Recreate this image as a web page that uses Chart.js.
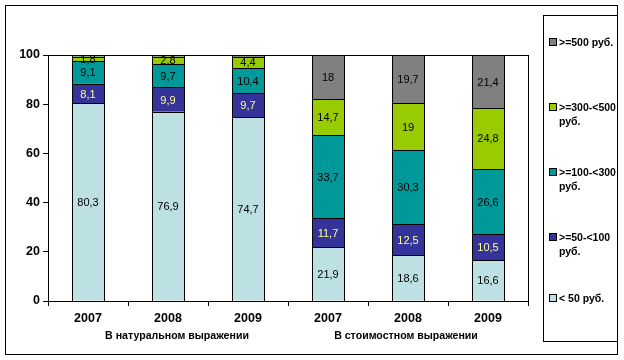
<!DOCTYPE html>
<html>
<head>
<meta charset="utf-8">
<script src="https://cdn.jsdelivr.net/npm/chart.js@4"></script>
<style>
    html, body { margin: 0; padding: 0; background: #fff; }
    #wrap { width: 624px; height: 360px; position: relative; }
</style>
</head>
<body>
<div id="wrap"><canvas id="chart" width="624" height="360"></canvas></div>
<script>
// Categories and groups
const years = ['2007', '2008', '2009', '2007', '2008', '2009'];
const groupNames = ['В натуральном выражении', 'В стоимостном выражении'];

// Series values (%), bottom to top
const below50 = [80.3, 76.9, 74.7, 21.9, 18.6, 16.6];
const from50to100 = [8.1, 9.9, 9.7, 11.7, 12.5, 10.5];
const from100to300 = [9.1, 9.7, 10.4, 33.7, 30.3, 26.6];
const from300to500 = [1.8, 2.8, 4.4, 14.7, 19, 24.8];
const over500 = [0.7, 0.7, 0.8, 18, 19.7, 21.4];

// Which values get a label on the bar (gray slivers in first group are unlabeled)
const over500Shown = [false, false, false, true, true, true];

const yTicks = [0, 20, 40, 60, 80, 100];

const seriesNames = ['< 50 руб.', '>=50-<100 руб.', '>=100-<300 руб.', '>=300-<500 руб.', '>=500 руб.'];
const seriesColors = ['#BDE0E3', '#333399', '#009999', '#99CC00', '#808080'];
const labelColors = ['#000000', '#FFFF99', '#000000', '#000000', '#000000'];
const legendLines = [
    ['>=500 руб.'],
    ['>=300-<500', 'руб.'],
    ['>=100-<300', 'руб.'],
    ['>=50-<100', 'руб.'],
    ['< 50 руб.']
];

const allSeries = [below50, from50to100, from100to300, from300to500, over500];

const fmt = v => String(v).replace('.', ',');

// Labels on segments, group labels, borders and the boxed legend
const decorations = {
    id: 'decorations',
    afterDatasetsDraw(chart) {
        const ctx = chart.ctx;
        const area = chart.chartArea;
        ctx.save();

        // crisp black outlines around each segment
        ctx.strokeStyle = '#000';
        ctx.lineWidth = 1;
        chart.data.datasets.forEach((ds, di) => {
            chart.getDatasetMeta(di).data.forEach(bar => {
                const x0 = Math.round(bar.x - bar.width / 2) + 0.5;
                const x1 = Math.round(bar.x + bar.width / 2) + 0.5;
                const y0 = Math.round(bar.y) + 0.5;
                const y1 = Math.round(bar.base) + 0.5;
                ctx.strokeRect(x0, y0, x1 - x0, y1 - y0);
            });
        });

        // segment labels
        ctx.font = '11px "Liberation Sans", Arial, sans-serif';
        ctx.textAlign = 'center';
        ctx.textBaseline = 'middle';
        chart.data.datasets.forEach((ds, di) => {
            const meta = chart.getDatasetMeta(di);
            meta.data.forEach((bar, i) => {
                if (di === 4 && !over500Shown[i]) return;
                const mid = (bar.y + bar.base) / 2;
                ctx.fillStyle = labelColors[di];
                ctx.fillText(fmt(ds.data[i]), bar.x, mid + 1);
            });
        });

        // plot area box
        ctx.strokeStyle = '#000';
        ctx.strokeRect(Math.round(area.left) + 0.5, Math.round(area.top) + 0.5,
            Math.round(area.right - area.left), Math.round(area.bottom - area.top));

        // group labels under the years
        const xs = chart.scales.x;
        ctx.fillStyle = '#000';
        ctx.font = 'bold 10.6px "Liberation Sans", Arial, sans-serif';
        ctx.fillText(groupNames[0], (xs.getPixelForValue(0) + xs.getPixelForValue(2)) / 2 + 9, 336);
        ctx.fillText(groupNames[1], (xs.getPixelForValue(3) + xs.getPixelForValue(5)) / 2 - 2, 336);

        // outer border
        ctx.strokeRect(5.5, 5.5, 612, 349);

        // legend box
        ctx.fillStyle = '#fff';
        ctx.fillRect(543.5, 15.5, 74, 326);
        ctx.strokeRect(543.5, 15.5, 74, 326);

        const rowY = [42, 107, 172, 237, 298];
        ctx.textAlign = 'left';
        ctx.font = 'bold 10.5px "Liberation Sans", Arial, sans-serif';
        legendLines.forEach((lines, k) => {
            const si = 4 - k;
            const y = rowY[k];
            ctx.fillStyle = seriesColors[si];
            ctx.fillRect(550, y - 3, 6, 6);
            ctx.strokeStyle = '#000';
            ctx.strokeRect(549.5, y - 3.5, 7, 7);
            ctx.fillStyle = '#000';
            ctx.fillText(lines[0], 559, y + 1);
            if (lines[1]) ctx.fillText(lines[1], 559, y + 15);
        });

        ctx.restore();
    }
};

new Chart(document.getElementById('chart'), {
    type: 'bar',
    data: {
        labels: years,
        datasets: allSeries.map((values, i) => ({
            label: seriesNames[i],
            data: values,
            backgroundColor: seriesColors[i],
            borderWidth: 0,
            barPercentage: 0.4,
            categoryPercentage: 1.0
        }))
    },
    options: {
        responsive: false,
        animation: false,
        layout: { padding: { left: 0, top: 55, right: 96, bottom: 8 } },
        plugins: {
            legend: { display: false },
            tooltip: { enabled: false }
        },
        scales: {
            x: {
                stacked: true,
                offset: true,
                afterFit: s => { s.height = 51; },
                grid: {
                    offset: true,
                    drawOnChartArea: false,
                    drawTicks: true,
                    tickLength: 5,
                    color: '#000'
                },
                border: { color: '#000', width: 1 },
                ticks: {
                    color: '#000',
                    padding: 5,
                    font: { family: '"Liberation Sans", Arial, sans-serif', size: 12.5, weight: 'bold' }
                }
            },
            y: {
                stacked: true,
                min: 0,
                max: 100,
                afterFit: s => { s.width = 48; },
                afterBuildTicks: s => { s.ticks = yTicks.map(v => ({ value: v })); },
                grid: {
                    drawOnChartArea: false,
                    drawTicks: true,
                    tickLength: 5,
                    color: '#000'
                },
                border: { color: '#000', width: 1 },
                ticks: {
                    color: '#000',
                    padding: 3,
                    font: { family: '"Liberation Sans", Arial, sans-serif', size: 12.5, weight: 'bold' }
                }
            }
        }
    },
    plugins: [decorations]
});
</script>
</body>
</html>
